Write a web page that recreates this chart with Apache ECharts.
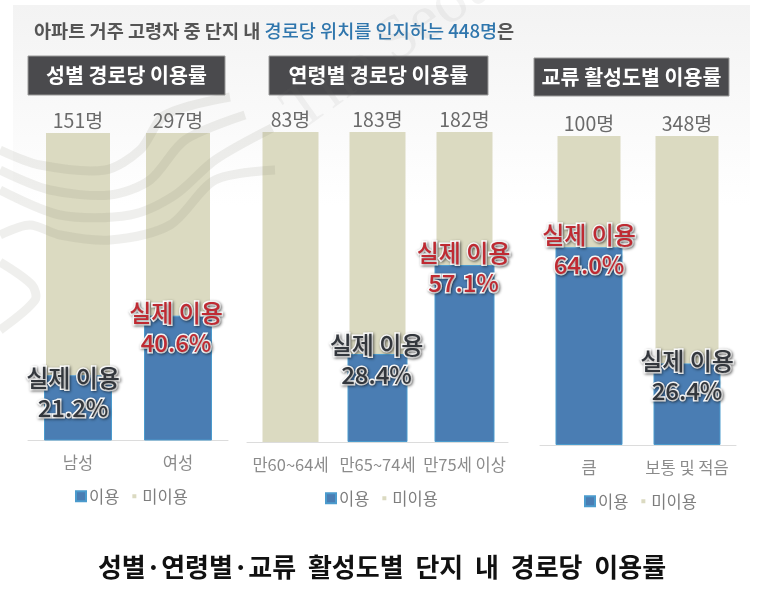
<!DOCTYPE html>
<html><head><meta charset="utf-8">
<style>html,body{margin:0;padding:0;background:#fff}#c{width:764px;height:599px}</style>
<script src="https://cdn.jsdelivr.net/npm/echarts@6/dist/echarts.min.js"></script>
</head><body><div id="c"></div>
<script>
const FONT = '"Noto Sans CJK KR","Noto Sans",sans-serif';
const USED = '이용', UNUSED = '미이용';

const genderCategories = ['남성', '여성'];
const genderUsed = [21.2, 40.6];
const genderUnused = [78.8, 59.4];
const genderCounts = ['151명', '297명'];

const ageCategories = ['만60~64세', '만65~74세', '만75세 이상'];
const ageUsed = [0, 28.4, 57.1];
const ageUnused = [100, 71.6, 42.9];
const ageCounts = ['83명', '183명', '182명'];

const activityCategories = ['큼', '보통 및 적음'];
const activityUsed = [64.0, 26.4];
const activityUnused = [36.0, 73.6];
const activityCounts = ['100명', '348명'];

const panels = [
  {cats: genderCategories, used: genderUsed, unused: genderUnused, counts: genderCounts,
   left: 28, width: 200, top: 133, bottom: 440.5, wide: 68, narrow: 64, legendLeft: 70, legendTop: 483,
   hot: [false, true], dx: [-5, -2], dy: [48, 42], head: [28, 56, 197, 39, '성별 경로당 이용률']},
  {cats: ageCategories, used: ageUsed, unused: ageUnused, counts: ageCounts,
   left: 247, width: 261, top: 132, bottom: 442, wide: 60, narrow: 56, legendLeft: 320, legendTop: 485,
   hot: [false, false, true], dx: [0, -1, -1], dy: [0, 36, 33], head: [269, 56, 219, 39, '연령별 경로당 이용률']},
  {cats: activityCategories, used: activityUsed, unused: activityUnused, counts: activityCounts,
   left: 540, width: 196, top: 136, bottom: 445, wide: 67, narrow: 63, legendLeft: 579, legendTop: 488,
   hot: [true, false], dx: [0, 0], dy: [33, 42], head: [534, 58, 195, 38, '교류 활성도별 이용률']}
];

const grid = [], xAxis = [], yAxis = [], series = [], legend = [];
panels.forEach((p, i) => {
  grid.push({left: p.left, width: p.width, top: p.top, height: p.bottom - p.top});
  const baseAxis = {type: 'category', gridIndex: i, data: p.cats};
  xAxis.push(Object.assign({}, baseAxis, {
    axisLine: {lineStyle: {color: '#dcdcdc', width: 1}}, axisTick: {show: false},
    axisLabel: {color: '#8b8b8b', fontSize: 16.5, margin: 14, fontFamily: FONT, interval: 0}}));
  xAxis.push(Object.assign({}, baseAxis, {show: false}));
  yAxis.push({type: 'value', gridIndex: i, min: 0, max: 100, show: false});
  const xUsed = i * 2, xUnused = i * 2 + 1;
  series.push({
    type: 'bar', name: USED, stack: 'p' + i, xAxisIndex: xUsed, yAxisIndex: i, barWidth: p.wide, z: 3,
    itemStyle: {color: '#4a7db3', borderColor: '#4b9bcd', borderWidth: 1},
    data: p.used.map((v, k) => ({
      value: v,
      itemStyle: v > 0 ? undefined : {borderWidth: 0},
      label: {
        show: v > 0, position: 'top', distance: 0, offset: [p.dx[k], p.dy[k]],
        formatter: '실제 이용\n' + v.toFixed(1) + '%',
        fontFamily: FONT, fontSize: 24, fontWeight: 500, lineHeight: 30, align: 'center',
        color: p.hot[k] ? '#bf2a32' : '#33373d',
        textBorderColor: '#ffffff', textBorderWidth: 3,
        textShadowColor: 'rgba(0,0,0,0.45)', textShadowBlur: 3, textShadowOffsetX: 1, textShadowOffsetY: 1
      }
    }))
  });
  series.push({
    type: 'bar', name: UNUSED, stack: 'p' + i, xAxisIndex: xUnused, yAxisIndex: i, barWidth: p.narrow, z: 2,
    itemStyle: {color: '#dbdac1'},
    data: p.unused.map((v, k) => ({
      value: v,
      label: {show: true, position: 'top', distance: 3, formatter: p.counts[k],
        fontFamily: FONT, fontSize: 19.5, color: '#6a6a6a'}
    }))
  });
  legend.push({
    left: p.legendLeft, top: p.legendTop, orient: 'horizontal', selectedMode: false,
    data: [USED, {name: UNUSED, icon: 'path://M0 0L0 0M10 10L10 10M3 3L7 3L7 7L3 7Z'}],
    icon: 'rect', itemWidth: 10, itemHeight: 10, itemGap: 10,
    textStyle: {color: '#7d7d7d', fontSize: 16.5, fontFamily: FONT, padding: [0, 0, 0, -2]}
  });
});

const wm = 'rgba(120,120,110,0.12)';
const stripes = [
  [[0,150],[40,165],[105,170],[140,150],[165,115],[230,97]],
  [[0,170],[50,190],[110,195],[150,180],[185,140],[245,115]],
  [[0,190],[60,215],[130,215],[175,195],[215,160],[272,128]],
  [[0,235],[30,225],[60,235],[110,240],[170,225],[215,180],[275,170]],
  [[0,330],[35,300],[32,285],[0,262]]
];
const graphic = [
  {type: 'rect', z: -10, shape: {x: 13, y: 5, width: 737, height: 200},
   style: {fill: {type: 'linear', x: 0, y: 0, x2: 0, y2: 1,
     colorStops: [{offset: 0, color: '#f3f3f3'}, {offset: 1, color: '#ffffff'}]}}},
  {type: 'text', z: 20, x: 272, y: 92, rotation: 0.62,
   style: {text: 'The Seoul', fontSize: 64, fontFamily: '"Liberation Serif",serif', fill: 'rgba(120,120,120,0.08)'}}
];
stripes.forEach(s => graphic.push({type: 'polyline', z: 20, shape: {points: s, smooth: 0.3},
  style: {stroke: wm, lineWidth: 9, fill: null}}));
panels.forEach(p => {
  const h = p.head;
  graphic.push({type: 'rect', z: 5, shape: {x: h[0], y: h[1], width: h[2], height: h[3]},
    style: {fill: '#4a4a4d', stroke: '#9a9a9a', lineWidth: 1}});
  graphic.push({type: 'text', z: 6, x: h[0] + h[2] / 2, y: h[1] + h[3] / 2,
    style: {text: h[4], fill: '#fff', fontSize: 20.6, fontWeight: 700, fontFamily: FONT, align: 'center', verticalAlign: 'middle'}});
});

const chart = echarts.init(document.getElementById('c'), null, {renderer: 'canvas'});
chart.setOption({
  animation: false,
  backgroundColor: '#fff',
  title: [
    {text: '{g|아파트 거주 고령자 중 단지 내 }{b|경로당 위치를 인지하는 448명}{g|은}', left: 29, top: 17,
     textStyle: {rich: {
       g: {fontFamily: FONT, fontSize: 18.6, color: '#555'},
       b: {fontFamily: FONT, fontSize: 18.6, color: '#2f76ad', fontWeight: 500}}}},
    {text: '성별·연령별·교류  활성도별  단지  내  경로당  이용률', left: 'center', top: 549,
     textStyle: {fontFamily: FONT, fontSize: 26, fontWeight: 700, color: '#111'}}
  ],
  grid, xAxis, yAxis, series, legend, graphic
});
</script></body></html>
